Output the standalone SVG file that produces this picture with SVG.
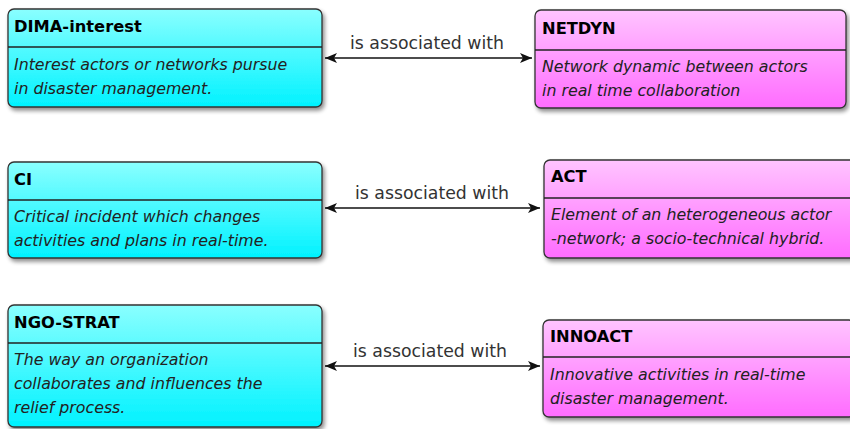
<svg xmlns="http://www.w3.org/2000/svg" width="850" height="429" viewBox="0 0 850 429">
<defs>
<linearGradient id="gc" x1="0" y1="0" x2="0" y2="1"><stop offset="0" stop-color="#8affff"/><stop offset="1" stop-color="#00f2ff"/></linearGradient>
<linearGradient id="gp" x1="0" y1="0" x2="0" y2="1"><stop offset="0" stop-color="#ffc4ff"/><stop offset="1" stop-color="#ff6cff"/></linearGradient>
<filter id="sh" x="-5%" y="-5%" width="115%" height="125%"><feGaussianBlur in="SourceAlpha" stdDeviation="2"/><feOffset dx="2" dy="3"/><feComponentTransfer><feFuncA type="linear" slope="0.45"/></feComponentTransfer><feMerge><feMergeNode/><feMergeNode in="SourceGraphic"/></feMerge></filter>
<marker id="ah" viewBox="0 0 12 10" refX="12" refY="5" markerWidth="12" markerHeight="10" markerUnits="userSpaceOnUse" orient="auto-start-reverse"><path d="M0,0 L12,5 L0,10 L3,5 Z" fill="#111"/></marker>
</defs>
<style>
.bc{fill:url(#gc);stroke:#333;stroke-width:1.3;filter:url(#sh)}
.bp{fill:url(#gp);stroke:#333;stroke-width:1.3;filter:url(#sh)}
.dv{stroke:#222;stroke-width:1.3}
.t{font-family:"DejaVu Sans",sans-serif;font-weight:bold;font-size:16.3px;fill:#000}
.d{font-family:"DejaVu Sans",sans-serif;font-style:italic;font-size:15.8px;fill:#222}
.l{font-family:"DejaVu Sans",sans-serif;font-size:17.3px;fill:#333;text-anchor:middle}
.c{stroke:#111;stroke-width:1.5;fill:none;marker-start:url(#ah);marker-end:url(#ah)}
</style>
<g id="connectors">
<path class="c" d="M325,58 L532,58"/>
<text class="l" x="427" y="49">is associated with</text>
<path class="c" d="M325,208 L540,208"/>
<text class="l" x="432" y="199">is associated with</text>
<path class="c" d="M325,366 L540,366"/>
<text class="l" x="430" y="357">is associated with</text>
</g>
<g id="DIMA-interest">
<rect class="bc" x="8" y="9" width="314" height="98" rx="6"/>
<line class="dv" x1="8" y1="47" x2="322" y2="47"/>
<text class="t" x="14" y="32">DIMA-interest</text>
<text class="d" x="14" y="70">Interest actors or networks pursue</text>
<text class="d" x="14" y="94">in disaster management.</text>
</g>
<g id="NETDYN">
<rect class="bp" x="535" y="10" width="311" height="98" rx="6"/>
<line class="dv" x1="535" y1="50" x2="846" y2="50"/>
<text class="t" x="542" y="34">NETDYN</text>
<text class="d" x="542" y="72">Network dynamic between actors</text>
<text class="d" x="542" y="96">in real time collaboration</text>
</g>
<g id="CI">
<rect class="bc" x="8" y="162" width="314" height="96" rx="6"/>
<line class="dv" x1="8" y1="200" x2="322" y2="200"/>
<text class="t" x="14" y="185">CI</text>
<text class="d" x="14" y="222">Critical incident which changes</text>
<text class="d" x="14" y="246">activities and plans in real-time.</text>
</g>
<g id="ACT">
<rect class="bp" x="544" y="160" width="312" height="98" rx="6"/>
<line class="dv" x1="544" y1="198" x2="856" y2="198"/>
<text class="t" x="551" y="182">ACT</text>
<text class="d" x="551" y="220">Element of an heterogeneous actor</text>
<text class="d" x="551" y="244">-network; a socio-technical hybrid.</text>
</g>
<g id="NGO-STRAT">
<rect class="bc" x="8" y="305" width="314" height="122" rx="6"/>
<line class="dv" x1="8" y1="343" x2="322" y2="343"/>
<text class="t" x="14" y="328">NGO-STRAT</text>
<text class="d" x="14" y="365">The way an organization</text>
<text class="d" x="14" y="389">collaborates and influences the</text>
<text class="d" x="14" y="413">relief process.</text>
</g>
<g id="INNOACT">
<rect class="bp" x="543" y="320" width="312" height="97" rx="6"/>
<line class="dv" x1="543" y1="357" x2="855" y2="357"/>
<text class="t" x="550" y="342">INNOACT</text>
<text class="d" x="550" y="380">Innovative activities in real-time</text>
<text class="d" x="550" y="404">disaster management.</text>
</g>
</svg>
